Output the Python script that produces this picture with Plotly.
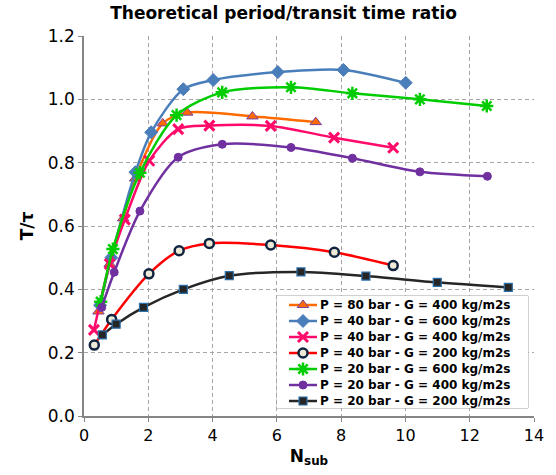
import plotly.graph_objects as go

# N_sub values and T/tau ratios for each operating condition
p80_g400_x = [0.45, 0.8, 1.22, 1.59, 2.45, 3.21, 5.24, 7.21]
p80_g400_y = [0.33, 0.48, 0.624, 0.75, 0.924, 0.958, 0.946, 0.928]

p40_g600_x = [0.5, 0.85, 1.6, 2.09, 3.09, 4.02, 6.03, 8.07, 10.01]
p40_g600_y = [0.35, 0.50, 0.77, 0.896, 1.032, 1.061, 1.086, 1.093, 1.052]

p40_g400_x = [0.31, 0.8, 1.27, 2.03, 2.93, 3.90, 5.81, 7.78, 9.62]
p40_g400_y = [0.272, 0.48, 0.62, 0.806, 0.906, 0.917, 0.916, 0.879, 0.847]

p40_g200_x = [0.32, 0.86, 2.02, 2.96, 3.90, 5.81, 7.79, 9.62]
p40_g200_y = [0.224, 0.305, 0.449, 0.522, 0.545, 0.540, 0.517, 0.475]

p20_g600_x = [0.52, 0.90, 1.74, 2.88, 4.30, 6.44, 8.35, 10.45, 12.53]
p20_g600_y = [0.361, 0.527, 0.768, 0.950, 1.022, 1.038, 1.019, 1.000, 0.979]

p20_g400_x = [0.55, 0.94, 1.74, 2.93, 4.30, 6.44, 8.35, 10.45, 12.55]
p20_g400_y = [0.343, 0.454, 0.647, 0.817, 0.858, 0.848, 0.814, 0.771, 0.757]

p20_g200_x = [0.57, 1.00, 1.85, 3.09, 4.52, 6.75, 8.77, 10.99, 13.20]
p20_g200_y = [0.256, 0.290, 0.343, 0.400, 0.443, 0.455, 0.442, 0.422, 0.406]

series_names = [
    "P = 80 bar - G = 400 kg/m2s",
    "P = 40 bar - G = 600 kg/m2s",
    "P = 40 bar - G = 400 kg/m2s",
    "P = 40 bar - G = 200 kg/m2s",
    "P = 20 bar - G = 600 kg/m2s",
    "P = 20 bar - G = 400 kg/m2s",
    "P = 20 bar - G = 200 kg/m2s",
]

x_ticks = [0, 2, 4, 6, 8, 10, 12, 14]
y_ticks = [0.0, 0.2, 0.4, 0.6, 0.8, 1.0, 1.2]

styles = [
    dict(line="#FF6A00", marker=dict(symbol="triangle-up", size=10, color="#FF6A00",
                                      line=dict(color="#7A3FA0", width=1))),
    dict(line="#4A7EBB", marker=dict(symbol="diamond", size=10, color="#4A7EBB",
                                      line=dict(color="#4A7EBB", width=1))),
    dict(line="#FF0A6A", marker=dict(symbol="x-thin-open", size=10, color="#FF0A6A",
                                      line=dict(color="#FF0A6A", width=3))),
    dict(line="#FF0000", marker=dict(symbol="circle", size=9, color="#EEEAD8",
                                      line=dict(color="#10233F", width=2.5))),
    dict(line="#00CC00", marker=dict(symbol="asterisk-open", size=11, color="#00CC00",
                                      line=dict(color="#00CC00", width=2.5))),
    dict(line="#7030A0", marker=dict(symbol="circle", size=8, color="#7030A0",
                                      line=dict(color="#7030A0", width=1))),
    dict(line="#262626", marker=dict(symbol="square", size=8, color="#262626",
                                      line=dict(color="#2C6FA8", width=1.2))),
]

data = [
    (p80_g400_x, p80_g400_y),
    (p40_g600_x, p40_g600_y),
    (p40_g400_x, p40_g400_y),
    (p40_g200_x, p40_g200_y),
    (p20_g600_x, p20_g600_y),
    (p20_g400_x, p20_g400_y),
    (p20_g200_x, p20_g200_y),
]

fig = go.Figure()
for name, (xs, ys), st in zip(series_names, data, styles):
    fig.add_trace(go.Scatter(
        x=xs, y=ys, name=name, mode="lines+markers",
        line=dict(color=st["line"], width=2.5, shape="spline", smoothing=0.8),
        marker=st["marker"], showlegend=False,
    ))

# Compact legend box: its own pixel-scaled axes so rows can sit 16 px apart
box_w, box_h = 251, 112
row_h = 16
box_domain_x = [0.4289, 0.9867]
box_domain_y = [0.021, 0.3158]

fig.add_shape(type="rect", xref="paper", yref="paper", layer="between",
              x0=box_domain_x[0], x1=box_domain_x[1],
              y0=box_domain_y[0], y1=box_domain_y[1],
              fillcolor="white", line=dict(color="#A6A6A6", width=1))

for i, (name, st) in enumerate(zip(series_names, styles)):
    row_y = 9 + row_h * i
    fig.add_trace(go.Scatter(
        x=[12, 40], y=[row_y, row_y], mode="lines", xaxis="x2", yaxis="y2",
        line=dict(color=st["line"], width=2.5), showlegend=False, hoverinfo="skip",
    ))
    fig.add_trace(go.Scatter(
        x=[26], y=[row_y], mode="markers", xaxis="x2", yaxis="y2",
        marker=st["marker"], showlegend=False, hoverinfo="skip", cliponaxis=False,
    ))
    fig.add_annotation(
        x=42, y=row_y, xref="x2", yref="y2", text=f"<b>{name}</b>",
        showarrow=False, xanchor="left", yanchor="middle",
        font=dict(size=12, family="DejaVu Sans", color="black"), borderpad=0,
    )

font_family = "DejaVu Sans"

axis_common = dict(
    showgrid=True, gridcolor="#A6A6A6", griddash="4px,3px", gridwidth=1,
    showline=True, linecolor="#868686", linewidth=1.5,
    ticks="outside", ticklen=4, tickcolor="#868686",
    zeroline=False,
)

fig.update_layout(
    width=556, height=475,
    margin=dict(l=84, r=22, t=36, b=59),
    paper_bgcolor="white", plot_bgcolor="white",
    font=dict(family=font_family, color="black", size=15),
    title=dict(text="<b>Theoretical period/transit time ratio</b>",
               x=0.51, xanchor="center", y=0.985, yanchor="top",
               font=dict(size=17, family=font_family)),
    showlegend=False,
    xaxis=dict(
        range=[0, 14], tickmode="array", tickvals=x_ticks,
        ticktext=[str(v) for v in x_ticks], tickfont=dict(size=16),
        title=dict(text="<b>N<sub>sub</sub></b>", font=dict(size=17), standoff=6),
        **axis_common,
    ),
    yaxis=dict(
        range=[0, 1.2], tickmode="array", tickvals=y_ticks,
        ticktext=[f"{v:.1f}" for v in y_ticks], tickfont=dict(size=17),
        title=dict(text="<b>T/τ</b>", font=dict(size=17), standoff=10),
        **axis_common,
    ),
    xaxis2=dict(domain=box_domain_x, range=[0, box_w], visible=False,
                anchor="y2", fixedrange=True),
    yaxis2=dict(domain=box_domain_y, range=[box_h, 0], visible=False,
                anchor="x2", fixedrange=True),
)

fig.write_html("out.html")
